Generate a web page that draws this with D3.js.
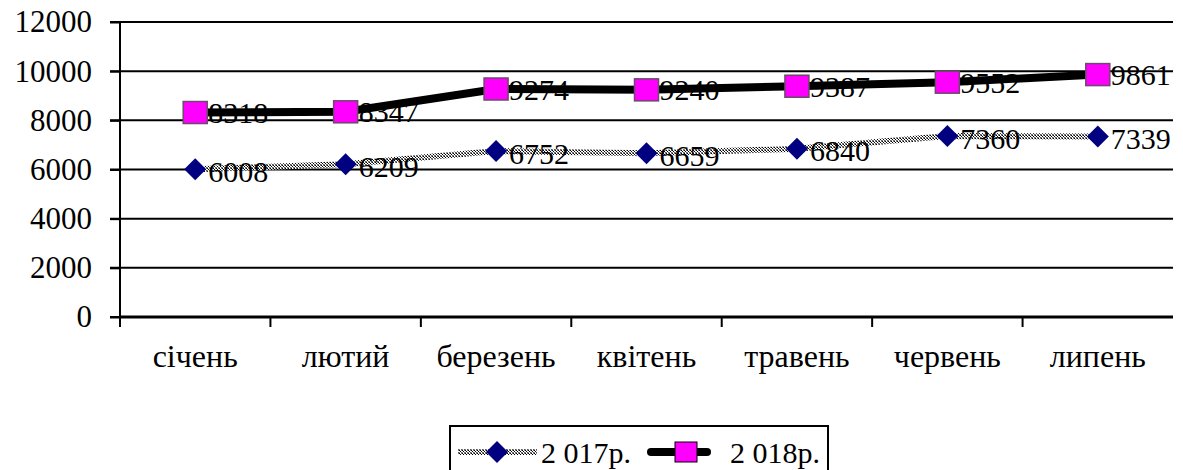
<!DOCTYPE html>
<html><head><meta charset="utf-8">
<script src="https://cdn.jsdelivr.net/npm/d3@7"></script>
<style>body{margin:0;background:#fff}svg{display:block}</style>
</head><body>
<svg id="c" width="1183" height="470"></svg>
<script>
const categories = ["січень","лютий","березень","квітень","травень","червень","липень"];
const values2017 = [6008,6209,6752,6659,6840,7360,7339];
const values2018 = [8318,8347,9274,9240,9387,9552,9861];
const seriesNames = ["2 017р.","2 018р."];
const yTicks = [0,2000,4000,6000,8000,10000,12000];

const FONT = "'Liberation Serif', 'Times New Roman', 'DejaVu Serif', serif";
const svg = d3.select("#c");
const defs = svg.append("defs");
const pat = defs.append("pattern").attr("id","dither").attr("patternUnits","userSpaceOnUse").attr("width",3).attr("height",3);
pat.append("rect").attr("width",3).attr("height",3).attr("fill","#fff");
[[0,0,"#000"],[1,1,"#000"],[2,2,"#555"],[2,0,"#888"],[0,2,"#888"]].forEach(([px,py,c])=>
  pat.append("rect").attr("x",px).attr("y",py).attr("width",1).attr("height",1).attr("fill",c));

const L = 120, R = 1173, T = 22, B = 317;
const x = d3.scaleBand().domain(categories).range([L,R]);
const y = d3.scaleLinear().domain([0,12000]).range([B,T]);

const styleText = (sel, size=30) => sel.style("font-family",FONT).style("font-size",size+"px").attr("fill","#000");

// gridlines
svg.append("g").selectAll("line").data(yTicks).join("line")
  .attr("x1",L-10).attr("x2",R).attr("y1",d=>y(d)).attr("y2",d=>y(d))
  .attr("stroke","#000").attr("stroke-width",2);

// y axis
const yAxis = svg.append("g").attr("transform",`translate(${L},0)`)
  .call(d3.axisLeft(y).tickValues(yTicks).tickSize(10).tickPadding(18).tickFormat(d3.format("d")));
yAxis.select(".domain").remove();
yAxis.selectAll("line").attr("stroke-width",2);
styleText(yAxis.selectAll("text"), 31);
svg.append("line").attr("x1",L).attr("x2",L).attr("y1",T).attr("y2",B+8).attr("stroke","#000").attr("stroke-width",2);

// x axis
const xAxis = svg.append("g").attr("transform",`translate(0,${B})`)
  .call(d3.axisBottom(x).tickSize(0).tickPadding(27));
xAxis.select(".domain").remove();
styleText(xAxis.selectAll("text"), 32);
svg.append("line").attr("x1",L).attr("x2",R).attr("y1",B).attr("y2",B).attr("stroke","#000").attr("stroke-width",3);
svg.append("g").selectAll("line").data(categories).join("line")
  .attr("x1",d=>x(d)).attr("x2",d=>x(d)).attr("y1",B).attr("y2",B+10).attr("stroke","#000").attr("stroke-width",2);

const cx = c => x(c) + x.bandwidth()/2;
const line = d3.line().x((d,i)=>cx(categories[i])).y(d=>y(d));

// series lines
svg.append("path").datum(values2017).attr("d",line).attr("fill","none")
  .attr("stroke","url(#dither)").attr("stroke-width",6);
svg.append("path").datum(values2018).attr("d",line).attr("fill","none")
  .attr("stroke","#000").attr("stroke-width",8).attr("stroke-linecap","round");

// markers
const diamond = (px,py,s) => `M${px},${py-s}L${px+s},${py}L${px},${py+s}L${px-s},${py}Z`;
svg.append("g").selectAll("path").data(values2017).join("path")
  .attr("d",(d,i)=>diamond(cx(categories[i]),y(d),11)).attr("fill","#000080");
svg.append("g").selectAll("rect").data(values2018).join("rect")
  .attr("x",(d,i)=>cx(categories[i])-12).attr("y",d=>y(d)-11).attr("width",24).attr("height",22)
  .attr("fill","#ff00ff").attr("stroke","#6b4a6b").attr("stroke-width",1.5);

// data labels
styleText(svg.append("g").selectAll("text").data(values2017).join("text")
  .attr("x",(d,i)=>cx(categories[i])+13).attr("y",d=>y(d)+2).attr("dominant-baseline","central")
  .text(d=>d));
styleText(svg.append("g").selectAll("text").data(values2018).join("text")
  .attr("x",(d,i)=>cx(categories[i])+13).attr("y",d=>y(d)).attr("dominant-baseline","central")
  .text(d=>d));

// legend
const lg = svg.append("g");
lg.append("rect").attr("x",450).attr("y",426).attr("width",378).attr("height",60)
  .attr("fill","#fff").attr("stroke","#000").attr("stroke-width",2);
const ly = 452;
lg.append("line").attr("x1",458).attr("x2",537).attr("y1",ly).attr("y2",ly).attr("stroke","url(#dither)").attr("stroke-width",6);
lg.append("path").attr("d",diamond(497,ly,11)).attr("fill","#000080");
styleText(lg.append("text").attr("x",541).attr("y",ly).attr("dominant-baseline","central").text(seriesNames[0]));
lg.append("line").attr("x1",651).attr("x2",707).attr("y1",ly).attr("y2",ly).attr("stroke","#000").attr("stroke-width",8).attr("stroke-linecap","round");
lg.append("rect").attr("x",675).attr("y",ly-10).attr("width",22).attr("height",20).attr("fill","#ff00ff").attr("stroke","#000").attr("stroke-width",1);
styleText(lg.append("text").attr("x",730).attr("y",ly).attr("dominant-baseline","central").text(seriesNames[1]));
</script>
</body></html>
